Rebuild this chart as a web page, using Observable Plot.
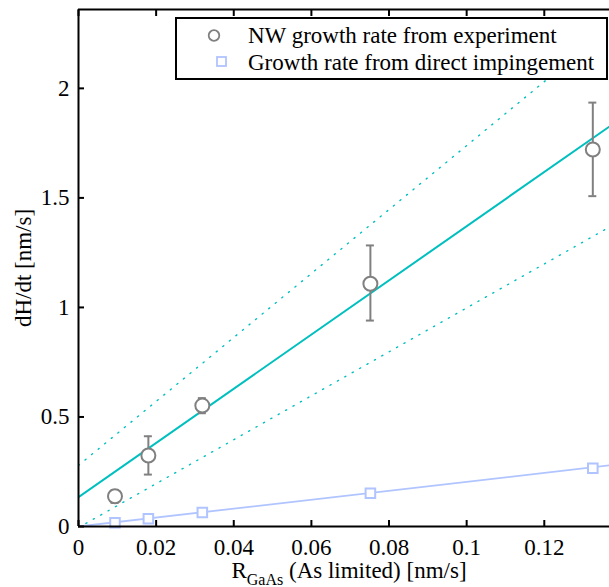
<!DOCTYPE html>
<html><head><meta charset="utf-8">
<script src="https://cdn.jsdelivr.net/npm/d3@7"></script>
<script src="https://cdn.jsdelivr.net/npm/@observablehq/plot@0.6"></script>
<style>body{margin:0;background:#fff;overflow:hidden} svg{display:block}</style>
</head><body><div id="chart"></div>
<script>
// ---- data ----
const rate = [0.0094, 0.0180, 0.0319, 0.0752, 0.1325];        // R_GaAs [nm/s]
const nwGrowth = [0.138, 0.324, 0.552, 1.108, 1.721];          // NW growth rate from experiment
const nwLow = [0.108, 0.237, 0.517, 0.940, 1.508];             // error bar bottom
const nwHigh = [0.165, 0.412, 0.586, 1.283, 1.935];            // error bar top
const impingement = [0.017, 0.035, 0.064, 0.152, 0.266];      // direct impingement
const lineX = [0, 0.1368];
const fitY = [0.134, 1.826];        // linear fit
const fitUpperY = [0.279, 2.276];   // upper bound (dotted)
const fitLowerY = [-0.005, 1.367];  // lower bound (dotted)
const impFitY = [0, 0.279];         // impingement fit
const xTicks = [0, 0.02, 0.04, 0.06, 0.08, 0.1, 0.12];
const yTicks = [0, 0.5, 1, 1.5, 2];
const xDomain = [0, 0.1368];
const yDomain = [0, 2.36];
const legendLabels = ["NW growth rate from experiment", "Growth rate from direct impingement"];
const yLabel = "dH/dt [nm/s]";
const xLabelMain = "R", xLabelSub = "GaAs", xLabelRest = " (As limited) [nm/s]";

const CYAN = "#00bfbf", GRAY = "#808080", LBLUE = "#b0c4ff";
const FONT = "'Liberation Serif', 'Times New Roman', Times, 'DejaVu Serif', serif";
const FS = 23;

const pts = rate.map((x, i) => ({x, y: nwGrowth[i], lo: nwLow[i], hi: nwHigh[i], imp: impingement[i]}));
const mk = ys => lineX.map((x, i) => ({x, y: ys[i]}));

const W = 609, H = 587;
const plot = Plot.plot({
  width: W, height: H,
  marginLeft: 78, marginTop: 9, marginBottom: 61, marginRight: 0,
  style: {fontFamily: FONT, fontSize: FS + "px", background: "#fff", color: "#000", overflow: "visible"},
  x: {domain: xDomain, label: null},
  y: {domain: yDomain, label: null},
  marks: [
    Plot.line(mk(fitUpperY), {x: "x", y: "y", stroke: CYAN, strokeWidth: 1.4, strokeDasharray: "1.2,7.3", clip: true}),
    Plot.line(mk(fitLowerY), {x: "x", y: "y", stroke: CYAN, strokeWidth: 1.4, strokeDasharray: "1.2,7.3", clip: true}),
    Plot.line(mk(fitY), {x: "x", y: "y", stroke: CYAN, strokeWidth: 2, clip: true}),
    Plot.line(mk(impFitY), {x: "x", y: "y", stroke: LBLUE, strokeWidth: 1.8, clip: true}),
    Plot.ruleX(pts, {x: "x", y1: "lo", y2: "hi", stroke: GRAY, strokeWidth: 2}),
    Plot.ruleY(pts, {y: "hi", x1: "x", x2: "x", insetLeft: -4, insetRight: -4, stroke: GRAY, strokeWidth: 2}),
    Plot.ruleY(pts, {y: "lo", x1: "x", x2: "x", insetLeft: -4, insetRight: -4, stroke: GRAY, strokeWidth: 2}),
    Plot.dot(pts, {x: "x", y: "y", r: 7, stroke: GRAY, fill: "#fff", strokeWidth: 2}),
    Plot.dot(pts, {x: "x", y: "imp", symbol: "square", r: 5.4, stroke: LBLUE, fill: "#fff", strokeWidth: 2}),
    Plot.ruleY([yDomain[0]], {stroke: "#000", strokeWidth: 2}),
    Plot.ruleY([yDomain[1]], {stroke: "#000", strokeWidth: 2}),
    Plot.ruleX([xDomain[0]], {stroke: "#000", strokeWidth: 2}),
    Plot.axisX(xTicks, {anchor: "bottom", tickSize: -6, tickPadding: 18, strokeWidth: 2, tickFormat: d => String(d), fontSize: FS}),
    Plot.axisX(xTicks, {anchor: "top", tickSize: -6, strokeWidth: 2, tickFormat: () => ""}),
    Plot.axisY(yTicks, {anchor: "left", tickSize: -6, tickPadding: 15, strokeWidth: 2, tickFormat: d => String(d), fontSize: FS})
  ]
});
document.getElementById("chart").appendChild(plot);

const svg = d3.select(plot);
// legend
const lg = svg.append("g").attr("font-family", FONT).attr("font-size", FS).attr("text-anchor", "start");
lg.append("rect").attr("x", 176).attr("y", 18).attr("width", 431).attr("height", 61)
  .attr("fill", "#fff").attr("stroke", "#000").attr("stroke-width", 2);
lg.append("circle").attr("cx", 214).attr("cy", 35.5).attr("r", 5.3)
  .attr("fill", "#fff").attr("stroke", GRAY).attr("stroke-width", 1.8);
lg.append("rect").attr("x", 217).attr("y", 57).attr("width", 9).attr("height", 9)
  .attr("fill", "#fff").attr("stroke", LBLUE).attr("stroke-width", 1.8);
lg.append("text").attr("x", 248).attr("y", 43).attr("text-anchor", "start").text(legendLabels[0]);
lg.append("text").attr("x", 248).attr("y", 70).attr("text-anchor", "start").text(legendLabels[1]);

// axis titles
const xl = svg.append("text").attr("x", 349).attr("y", 578).attr("text-anchor", "middle")
  .attr("font-family", FONT).attr("font-size", FS);
xl.append("tspan").text(xLabelMain);
xl.append("tspan").attr("font-size", 16).attr("dy", 7).text(xLabelSub);
xl.append("tspan").attr("dy", -7).text(xLabelRest);

svg.append("text").attr("transform", "translate(31,268) rotate(-90)").attr("text-anchor", "middle")
  .attr("font-family", FONT).attr("font-size", FS).text(yLabel);
</script>
</body></html>
